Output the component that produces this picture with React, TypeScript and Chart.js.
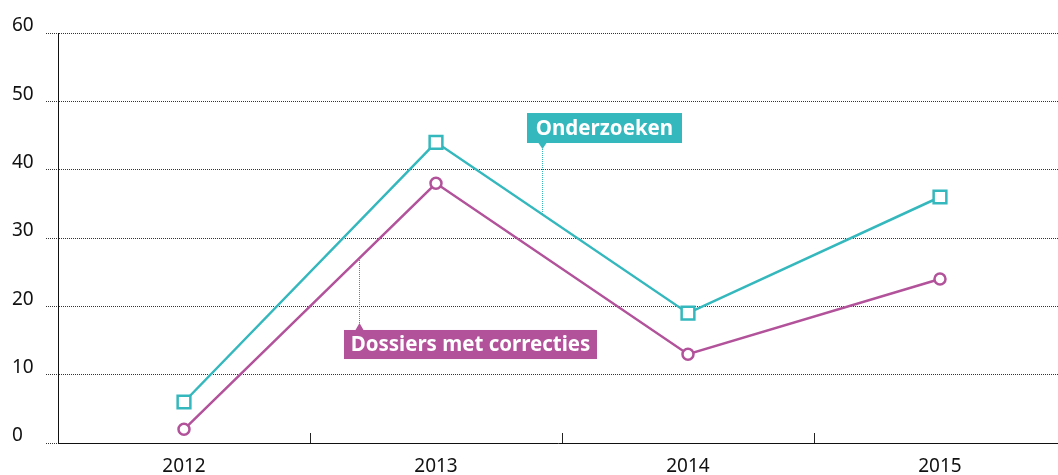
import React, { useEffect, useRef } from "react";
import { Chart, registerables } from "chart.js";

Chart.register(...registerables);

const categories = ["2012", "2013", "2014", "2015"];
const onderzoeken = [6, 44, 19, 36];
const dossiers = [2, 38, 13, 24];
const yTicks = [0, 10, 20, 30, 40, 50, 60];

const TEAL = "#35b8bd";
const MAGENTA = "#b2529a";
const FONT = "'Noto Sans', sans-serif";
const X_MIN = -0.5;
const X_MAX = 3.4683;

// callout layout (in data units)
const callouts = [
  { text: "Onderzoeken", color: TEAL, dataset: 0, x0: 1.3611, x1: 1.9762, yTop: 48.29, yBot: 43.9, px: 1.4206, below: true },
  { text: "Dossiers met correcties", color: MAGENTA, dataset: 1, x0: 0.6349, x1: 1.6389, yTop: 16.54, yBot: 12.29, px: 0.6944, below: false },
];

const seriesList = [onderzoeken, dossiers];

function interp(vals: number[], x: number) {
  const i = Math.max(0, Math.min(vals.length - 2, Math.floor(x)));
  const t = x - i;
  return vals[i] + (vals[i + 1] - vals[i]) * t;
}

const decorPlugin = {
  id: "decor",
  afterDraw(chart: any) {
    const { ctx } = chart;
    const xs = chart.scales.x;
    const ys = chart.scales.y;
    // inner tick marks between categories
    ctx.save();
    ctx.strokeStyle = "#222";
    ctx.lineWidth = 1;
    const base = ys.getPixelForValue(0);
    for (let i = 0; i < categories.length - 1; i++) {
      const x = Math.round(xs.getPixelForValue(i + 0.5)) + 0.5;
      ctx.beginPath();
      ctx.moveTo(x, base);
      ctx.lineTo(x, base - 10);
      ctx.stroke();
    }
    ctx.restore();

    callouts.forEach((c) => {
      const left = xs.getPixelForValue(c.x0);
      const right = xs.getPixelForValue(c.x1);
      const top = ys.getPixelForValue(c.yTop);
      const bot = ys.getPixelForValue(c.yBot);
      const px = Math.round(xs.getPixelForValue(c.px)) + 0.5;
      const lineY = ys.getPixelForValue(interp(seriesList[c.dataset], c.px));
      ctx.save();
      // connector
      ctx.strokeStyle = c.color;
      ctx.lineWidth = 1;
      ctx.setLineDash([1, 1]);
      ctx.beginPath();
      if (c.below) {
        ctx.moveTo(px, bot + 6);
        ctx.lineTo(px, lineY);
      } else {
        ctx.moveTo(px, top - 7);
        ctx.lineTo(px, lineY);
      }
      ctx.stroke();
      ctx.setLineDash([]);
      // triangle
      ctx.fillStyle = c.color;
      ctx.beginPath();
      if (c.below) {
        ctx.moveTo(px - 4, bot);
        ctx.lineTo(px + 4, bot);
        ctx.lineTo(px, bot + 6);
      } else {
        ctx.moveTo(px - 4, top);
        ctx.lineTo(px + 4, top);
        ctx.lineTo(px, top - 7);
      }
      ctx.closePath();
      ctx.fill();
      // box
      ctx.fillRect(left, top, right - left, bot - top);
      ctx.fillStyle = "#fff";
      ctx.font = `bold 20.5px ${FONT}`;
      ctx.textAlign = "center";
      ctx.textBaseline = "middle";
      ctx.fillText(c.text, (left + right) / 2, (top + bot) / 2 + 1);
      ctx.restore();
    });
  },
};

export default function App() {
  const ref = useRef<HTMLCanvasElement>(null);
  useEffect(() => {
    if (!ref.current) return;
    const mk = (vals: number[]) => vals.map((v, i) => ({ x: i, y: v }));
    const chart = new Chart(ref.current, {
      type: "line",
      data: {
        datasets: [
          {
            label: "Onderzoeken",
            data: mk(onderzoeken),
            borderColor: TEAL,
            backgroundColor: "#fff",
            borderWidth: 2.5,
            pointStyle: "rect",
            pointRadius: 9,
            pointBorderWidth: 2.5,
            pointBackgroundColor: "#fff",
            pointBorderColor: TEAL,
          },
          {
            label: "Dossiers met correcties",
            data: mk(dossiers),
            borderColor: MAGENTA,
            backgroundColor: "#fff",
            borderWidth: 2.5,
            pointStyle: "circle",
            pointRadius: 5.5,
            pointBorderWidth: 2.5,
            pointBackgroundColor: "#fff",
            pointBorderColor: MAGENTA,
          },
        ],
      },
      options: {
        responsive: false,
        animation: false,
        layout: { autoPadding: false, padding: { left: 12, right: 0, top: 33, bottom: 0 } },
        plugins: { legend: { display: false }, tooltip: { enabled: false } },
        scales: {
          x: {
            type: "linear",
            bounds: "data",
            min: X_MIN,
            max: X_MAX,
            afterBuildTicks: (scale: any) => {
              scale.ticks = categories.map((_, i) => ({ value: i }));
              scale.min = X_MIN;
              scale.max = X_MAX;
            },
            ticks: {
              autoSkip: false,
              maxRotation: 0,
              padding: 0,
              color: "#111",
              font: { family: FONT, size: 19 },
              callback: (v: any) => categories[Math.round(Number(v))] ?? "",
            },
            grid: { display: false, drawTicks: true, tickLength: 12 },
            border: { display: true, color: "#111", width: 1 },
            afterFit: (scale: any) => {
              scale.height = 32;
              scale.paddingLeft = 0;
              scale.paddingRight = 0;
            },
          },
          y: {
            min: 0,
            max: 60,
            afterBuildTicks: (scale: any) => {
              scale.ticks = yTicks.map((v) => ({ value: v }));
            },
            ticks: {
              crossAlign: "far",
              labelOffset: -7,
              color: "#111",
              font: { family: FONT, size: 19 },
            },
            grid: {
              color: "#333",
              lineWidth: 1,
              tickLength: 12,
              tickBorderDash: [1, 1],
            },
            border: { display: true, color: "#111", width: 1, dash: [1, 1] },
            afterFit: (scale: any) => {
              scale.width = 46;
              scale.paddingTop = 0;
              scale.paddingBottom = 0;
            },
          },
        },
      },
      plugins: [decorPlugin],
    } as any);
    return () => chart.destroy();
  }, []);
  return (
    <div style={{ position: "absolute", left: 0, top: 0, width: 1058, height: 475, overflow: "hidden" }}>
      <canvas ref={ref} width={1058} height={475} style={{ display: "block" }} />
    </div>
  );
}
